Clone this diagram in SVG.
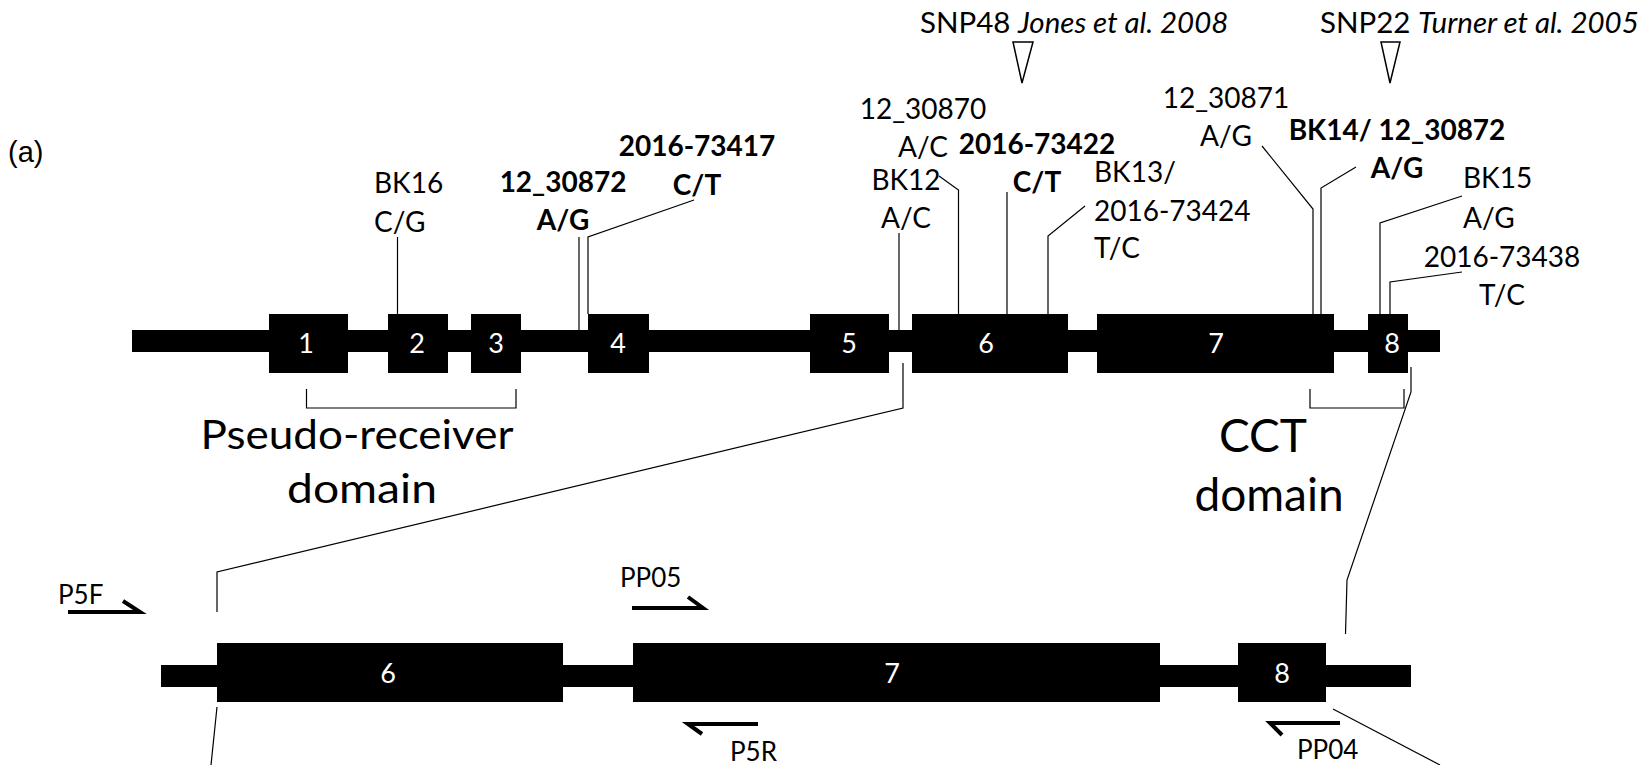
<svg xmlns="http://www.w3.org/2000/svg" width="1644" height="765" viewBox="0 0 1644 765">
<style>
text{font-family:Lato,"Liberation Sans",sans-serif;font-size:28px;fill:#000}
.b{font-weight:bold}
.i{font-style:italic}
.m{text-anchor:middle}
.num{fill:#fff;text-anchor:middle;font-size:27px}
.ex{fill:#000}
.ln{stroke:#000;stroke-width:1.2;fill:none}
.pr{stroke:#000;stroke-width:4;fill:none}
.tri{fill:#fff;stroke:#000;stroke-width:1.5}
.hd{font-size:29.5px}
.big{font-size:41px;text-anchor:middle}
.big2{font-size:46px;text-anchor:middle}
.sm{font-size:26px}
</style>
<rect width="1644" height="765" fill="#fff"/>
<text x="8" y="162" style="font-family:'Liberation Sans',Arial,sans-serif;font-size:29px">(a)</text>

<g id="gene-upper">
  <rect class="ex" x="132" y="330" width="1308" height="22"/>
  <g id="exon1"><rect class="ex" x="269" y="314" width="79" height="59"/><text class="num" x="306" y="353">1</text></g>
  <g id="exon2"><rect class="ex" x="388" y="314" width="60" height="59"/><text class="num" x="417" y="353">2</text></g>
  <g id="exon3"><rect class="ex" x="471" y="314" width="50" height="59"/><text class="num" x="496" y="353">3</text></g>
  <g id="exon4"><rect class="ex" x="588" y="314" width="61" height="59"/><text class="num" x="618" y="353">4</text></g>
  <g id="exon5"><rect class="ex" x="810" y="314" width="79" height="59"/><text class="num" x="849" y="353">5</text></g>
  <g id="exon6"><rect class="ex" x="912" y="314" width="156" height="59"/><text class="num" x="986" y="353">6</text></g>
  <g id="exon7"><rect class="ex" x="1097" y="314" width="237" height="59"/><text class="num" x="1216" y="353">7</text></g>
  <g id="exon8"><rect class="ex" x="1368" y="314" width="40" height="59"/><text class="num" x="1392" y="353">8</text></g>
</g>

<g id="gene-lower">
  <rect class="ex" x="161" y="665" width="1250" height="22"/>
  <g id="exon6-zoom"><rect class="ex" x="217" y="643" width="346" height="59"/><text class="num" x="388" y="683">6</text></g>
  <g id="exon7-zoom"><rect class="ex" x="633" y="643" width="527" height="59"/><text class="num" x="892" y="683">7</text></g>
  <g id="exon8-zoom"><rect class="ex" x="1238" y="643" width="88" height="59"/><text class="num" x="1282" y="683">8</text></g>
</g>

<g id="snp-labels">
  <g id="snp48"><text class="hd" x="920" y="33">SNP48 <tspan class="i">Jones et al. 2008</tspan></text><polygon class="tri" points="1013,42 1033,42 1022,83"/></g>
  <g id="snp22"><text class="hd" x="1320" y="33">SNP22 <tspan class="i">Turner et al. 2005</tspan></text><polygon class="tri" points="1381,42 1400,42 1390,83"/></g>
  <g id="bk16"><text x="374" y="193">BK16</text><text x="374" y="232">C/G</text></g>
  <g id="m12_30872a"><text class="b m" x="563" y="192">12_30872</text><text class="b m" x="563" y="230">A/G</text></g>
  <g id="m2016_73417"><text class="b m" x="697" y="156">2016-73417</text><text class="b m" x="697" y="195">C/T</text></g>
  <g id="m12_30870"><text class="m" x="923" y="119">12_30870</text><text class="m" x="923" y="157">A/C</text></g>
  <g id="bk12"><text class="m" x="906" y="190">BK12</text><text class="m" x="906" y="228">A/C</text></g>
  <g id="m2016_73422"><text class="b m" x="1037" y="154">2016-73422</text><text class="b m" x="1037" y="192">C/T</text></g>
  <g id="bk13"><text x="1094" y="182">BK13/</text><text x="1094" y="221">2016-73424</text><text x="1094" y="258">T/C</text></g>
  <g id="m12_30871"><text class="m" x="1226" y="108">12_30871</text><text class="m" x="1226" y="146">A/G</text></g>
  <g id="bk14"><text class="b m" x="1397" y="140">BK14/ 12_30872</text><text class="b m" x="1397" y="178">A/G</text></g>
  <g id="bk15"><text x="1463" y="188">BK15</text><text x="1463" y="228">A/G</text></g>
  <g id="m2016_73438"><text class="m" x="1502" y="267">2016-73438</text><text class="m" x="1502" y="305">T/C</text></g>
</g>

<g id="domains">
  <g id="pseudo-receiver"><path class="ln" d="M306.5,389 V408 H516 V389"/><text class="big" x="357" y="449" textLength="313" lengthAdjust="spacingAndGlyphs">Pseudo-receiver</text><text class="big" x="362" y="503" textLength="150" lengthAdjust="spacingAndGlyphs">domain</text></g>
  <g id="cct"><path class="ln" d="M1310,389 V408 H1404 V389"/><text class="big2" x="1263" y="452">CCT</text><text class="big2" x="1269" y="511">domain</text></g>
</g>

<g id="primers">
  <g id="p5f"><text class="sm" x="58" y="604">P5F</text><polyline class="pr" points="68,612 140,612 123,601"/></g>
  <g id="pp05"><text class="sm" x="620" y="587">PP05</text><polyline class="pr" points="632,608 703,608 688,597"/></g>
  <g id="p5r"><text class="sm" x="730" y="761">P5R</text><polyline class="pr" points="758,724 688,724 702,734"/></g>
  <g id="pp04"><text class="sm" x="1297" y="759">PP04</text><polyline class="pr" points="1340,723 1270,723 1282,735"/></g>
</g>

<g id="connectors">
  <polyline class="ln" points="397.5,237 397.5,314"/>
  <polyline class="ln" points="579,237 579,330"/>
  <polyline class="ln" points="694,200 588,237 588,314"/>
  <polyline class="ln" points="899,233 899,330"/>
  <polyline class="ln" points="939,176 958.5,190 958.5,314"/>
  <polyline class="ln" points="1007,192 1007,314"/>
  <polyline class="ln" points="1085,206 1048,236 1048,314"/>
  <polyline class="ln" points="1262,146 1313,209 1313,314"/>
  <polyline class="ln" points="1356,167 1321,188 1321,314"/>
  <polyline class="ln" points="1462,196 1380,223 1380,314"/>
  <polyline class="ln" points="1462,272 1390,282 1390,314"/>
  <polyline class="ln" points="903,363 903,408 217,572 217,612"/>
  <polyline class="ln" points="217,707 211,765"/>
  <polyline class="ln" points="1411,367 1411,392 1347,580 1345.5,634"/>
  <polyline class="ln" points="1333,709 1440,765"/>
</g>
</svg>
